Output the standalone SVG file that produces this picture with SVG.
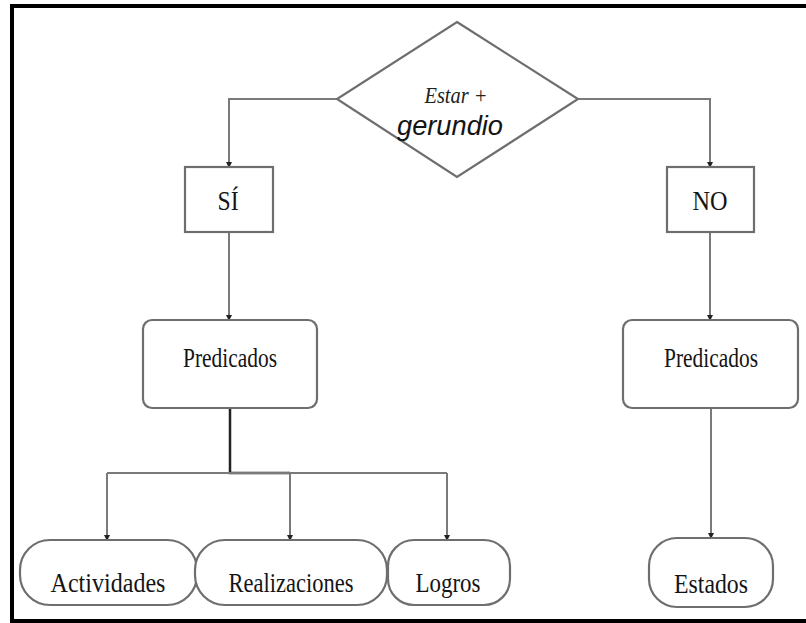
<svg xmlns="http://www.w3.org/2000/svg" width="806" height="623" viewBox="0 0 806 623">
<style>
.frame{fill:none;stroke:#000;stroke-width:4}
.shape{fill:#fff;stroke:#6e6e6e;stroke-width:2.2}
.conn{fill:none;stroke:#7a7a7a;stroke-width:2}
.dark{fill:none;stroke:#222;stroke-width:2.5}
.lbl{font-family:"Liberation Serif","Times New Roman",serif;font-size:28px;fill:#141414;text-anchor:middle}
</style>
<defs>
<marker id="arr" viewBox="0 0 6 6" refX="5" refY="3" markerWidth="6" markerHeight="6" orient="auto" markerUnits="userSpaceOnUse">
<path d="M0,0 L6,3 L0,6 z" fill="#222"/>
</marker>
</defs>
<rect width="806" height="623" fill="#fff"/>
<path class="frame" d="M808,6 H12 V621 H808"/>
<g id="connectors">
<path class="conn" d="M337,99 H229 V167" marker-end="url(#arr)"/>
<path class="conn" d="M578,99 H710 V167" marker-end="url(#arr)"/>
<path class="conn" d="M229,232 V320" marker-end="url(#arr)"/>
<path class="conn" d="M710,232 V320" marker-end="url(#arr)"/>
<path class="dark" d="M230,408 V473 H290"/>
<path class="conn" d="M107,473 H447"/>
<path class="conn" d="M107,473 V540" marker-end="url(#arr)"/>
<path class="conn" d="M290,473 V540" marker-end="url(#arr)"/>
<path class="conn" d="M447,473 V540" marker-end="url(#arr)"/>
<path class="conn" d="M711,408 V538" marker-end="url(#arr)"/>
</g>
<g id="decision">
<polygon class="shape" points="457,22 578,99 457,177 337,99"/>
<text x="456" y="103" font-family="'Liberation Serif','Times New Roman',serif" font-style="italic" font-size="23" fill="#222" text-anchor="middle" textLength="63" lengthAdjust="spacingAndGlyphs">Estar +</text>
<text x="450" y="135" font-family="'Liberation Sans',Arial,sans-serif" font-style="italic" font-size="27" fill="#141414" text-anchor="middle" textLength="106" lengthAdjust="spacingAndGlyphs">gerundio</text>
</g>
<g id="si">
<rect class="shape" x="185" y="167" width="88" height="65"/>
<text class="lbl" x="228" y="210" textLength="21" lengthAdjust="spacingAndGlyphs">SÍ</text>
</g>
<g id="no">
<rect class="shape" x="667" y="167" width="87" height="65"/>
<text class="lbl" x="710" y="210" textLength="35" lengthAdjust="spacingAndGlyphs">NO</text>
</g>
<g id="predicados-si">
<rect class="shape" x="143" y="320" width="174" height="88" rx="9"/>
<text class="lbl" x="230" y="367" textLength="94" lengthAdjust="spacingAndGlyphs">Predicados</text>
</g>
<g id="predicados-no">
<rect class="shape" x="623" y="320" width="175" height="88" rx="9"/>
<text class="lbl" x="711" y="367" textLength="94" lengthAdjust="spacingAndGlyphs">Predicados</text>
</g>
<g id="actividades">
<rect class="shape" x="20" y="540" width="177" height="65" rx="30"/>
<text class="lbl" x="108" y="592" textLength="115" lengthAdjust="spacingAndGlyphs">Actividades</text>
</g>
<g id="realizaciones">
<rect class="shape" x="195" y="540" width="192" height="65" rx="30"/>
<text class="lbl" x="291" y="592" textLength="125" lengthAdjust="spacingAndGlyphs">Realizaciones</text>
</g>
<g id="logros">
<rect class="shape" x="388" y="540" width="122" height="65" rx="26"/>
<text class="lbl" x="448" y="592" textLength="65" lengthAdjust="spacingAndGlyphs">Logros</text>
</g>
<g id="estados">
<rect class="shape" x="649" y="538" width="124" height="69" rx="28"/>
<text class="lbl" x="711" y="593" textLength="74" lengthAdjust="spacingAndGlyphs">Estados</text>
</g>
</svg>
